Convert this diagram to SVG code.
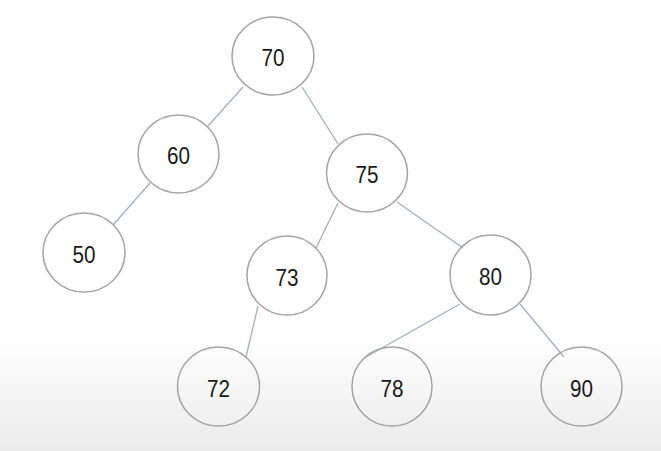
<svg xmlns="http://www.w3.org/2000/svg" width="661" height="451" viewBox="0 0 661 451">
<defs>
<linearGradient id="bg" x1="0" y1="0" x2="0" y2="1">
<stop offset="0" stop-color="#ffffff"/>
<stop offset="0.74" stop-color="#ffffff"/>
<stop offset="1" stop-color="#ebebeb"/>
</linearGradient>
<style>
.node ellipse{fill:none;stroke:#a3a3a3;stroke-width:1.5}
.node text{font-family:"Liberation Sans",Arial,sans-serif;font-size:23px;fill:#1a1a1a;text-anchor:middle}
#edges line{stroke:#9fb0c2;stroke-width:1.3}
</style>
</defs>
<rect x="0" y="0" width="661" height="451" fill="url(#bg)"/>
<g id="edges">
<line x1="243" y1="87" x2="208" y2="126"/>
<line x1="302" y1="87" x2="338" y2="144"/>
<line x1="150" y1="183" x2="113" y2="225"/>
<line x1="338" y1="203" x2="316" y2="248"/>
<line x1="397" y1="202" x2="463" y2="248"/>
<line x1="258" y1="306" x2="246" y2="357"/>
<line x1="460" y1="304" x2="366" y2="357"/>
<line x1="520" y1="304" x2="564" y2="357"/>
</g>
<g id="n70" class="node"><ellipse cx="273" cy="56" rx="41" ry="39"/><text x="273" y="66" textLength="23" lengthAdjust="spacingAndGlyphs">70</text></g>
<g id="n60" class="node"><ellipse cx="178.5" cy="154" rx="40.5" ry="39"/><text x="178.5" y="164" textLength="23" lengthAdjust="spacingAndGlyphs">60</text></g>
<g id="n75" class="node"><ellipse cx="367" cy="173" rx="40.5" ry="39"/><text x="367" y="183" textLength="23" lengthAdjust="spacingAndGlyphs">75</text></g>
<g id="n50" class="node"><ellipse cx="84" cy="252.5" rx="41" ry="39.5"/><text x="84" y="262.5" textLength="23" lengthAdjust="spacingAndGlyphs">50</text></g>
<g id="n73" class="node"><ellipse cx="287" cy="275.5" rx="40" ry="39.5"/><text x="287" y="285.5" textLength="23" lengthAdjust="spacingAndGlyphs">73</text></g>
<g id="n80" class="node"><ellipse cx="490.5" cy="275" rx="40.5" ry="40"/><text x="490.5" y="285" textLength="23" lengthAdjust="spacingAndGlyphs">80</text></g>
<g id="n72" class="node"><ellipse cx="218.5" cy="386.5" rx="41" ry="39.5"/><text x="218.5" y="396.5" textLength="23" lengthAdjust="spacingAndGlyphs">72</text></g>
<g id="n78" class="node"><ellipse cx="392" cy="386.5" rx="40" ry="39.5"/><text x="392" y="396.5" textLength="23" lengthAdjust="spacingAndGlyphs">78</text></g>
<g id="n90" class="node"><ellipse cx="581.5" cy="386.5" rx="40.5" ry="39.5"/><text x="581.5" y="396.5" textLength="23" lengthAdjust="spacingAndGlyphs">90</text></g>
</svg>
